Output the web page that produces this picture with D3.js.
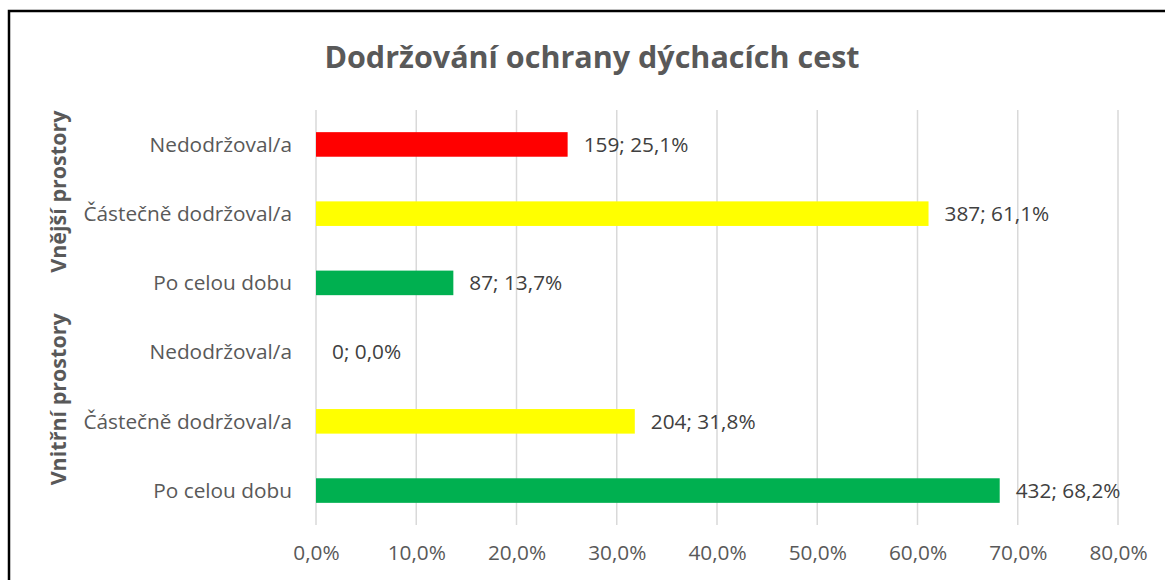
<!DOCTYPE html>
<html>
<head>
<meta charset="utf-8">
<script src="https://cdn.jsdelivr.net/npm/d3@7"></script>
<style>
  body { margin: 0; background: #fff; }
  svg { display: block; font-family: "Open Sans", sans-serif; }
</style>
</head>
<body>
<svg id="chart" width="1165" height="580"></svg>
<script>
// Data
const groups = ["Vnější prostory", "Vnitřní prostory"];
const categories = ["Nedodržoval/a", "Částečně dodržoval/a", "Po celou dobu"];
const counts = [159, 387, 87, 0, 204, 432];     // top to bottom
const percents = [25.1, 61.1, 13.7, 0.0, 31.8, 68.2];
const barColors = ["#ff0000", "#ffff00", "#00b050"];
const xTicks = [0, 10, 20, 30, 40, 50, 60, 70, 80];

const rows = percents.map((p, i) => ({
    key: i,
    group: groups[Math.floor(i / 3)],
    category: categories[i % 3],
    color: barColors[i % 3],
    count: counts[i],
    pct: p
}));

const svg = d3.select("#chart");
const margin = { top: 110, left: 316, right: 47, bottom: 55 };
const width = 1165, height = 580;
const labelFont = 20.8;

// chart frame
svg.append("rect")
    .attr("x", 9).attr("y", 11)
    .attr("width", 1170).attr("height", 600)
    .attr("fill", "none")
    .attr("stroke", "#000")
    .attr("stroke-width", 2.5);

const x = d3.scaleLinear().domain([0, 80]).range([margin.left, width - margin.right]);
const y = d3.scaleBand().domain(rows.map(d => d.key))
    .range([margin.top, height - margin.bottom])
    .paddingInner(0.645).paddingOuter(0.32);

// title
svg.append("text")
    .attr("x", 592).attr("y", 68)
    .attr("text-anchor", "middle")
    .attr("font-size", 30.5).attr("font-weight", "bold")
    .attr("fill", "#595959")
    .text("Dodržování ochrany dýchacích cest");

// gridlines
svg.append("g")
    .selectAll("line")
    .data(xTicks)
    .join("line")
    .attr("x1", d => x(d)).attr("x2", d => x(d))
    .attr("y1", margin.top).attr("y2", height - margin.bottom)
    .attr("stroke", "#d9d9d9").attr("stroke-width", 1.5);

// x axis labels
const xAxis = svg.append("g")
    .attr("transform", `translate(0,${height - margin.bottom})`)
    .call(d3.axisBottom(x).tickValues(xTicks).tickSize(0).tickPadding(20)
        .tickFormat(d => d.toFixed(1).replace(".", ",") + "%"));
xAxis.select(".domain").remove();
xAxis.selectAll("text")
    .attr("font-family", "'Open Sans', sans-serif")
    .attr("font-size", labelFont).attr("fill", "#595959");

// category labels
svg.append("g")
    .selectAll("text")
    .data(rows)
    .join("text")
    .attr("x", 292)
    .attr("y", d => y(d.key) + y.bandwidth() / 2)
    .attr("dy", "0.35em")
    .attr("text-anchor", "end")
    .attr("font-size", labelFont).attr("fill", "#595959")
    .text(d => d.category);

// group labels (rotated)
svg.append("g")
    .selectAll("text")
    .data(groups)
    .join("text")
    .attr("transform", (g, i) => {
        const first = y(i * 3), last = y(i * 3 + 2) + y.bandwidth();
        return `translate(58,${(first + last) / 2 - 22}) rotate(-90)`;
    })
    .attr("dy", "0.35em")
    .attr("text-anchor", "middle")
    .attr("font-size", 21.5).attr("font-weight", "bold")
    .attr("fill", "#595959")
    .text(d => d);

// bars
svg.append("g")
    .selectAll("rect")
    .data(rows)
    .join("rect")
    .attr("x", x(0))
    .attr("y", d => y(d.key))
    .attr("width", d => x(d.pct) - x(0))
    .attr("height", y.bandwidth())
    .attr("fill", d => d.color);

// value labels
svg.append("g")
    .selectAll("text")
    .data(rows)
    .join("text")
    .attr("x", d => x(d.pct) + 16)
    .attr("y", d => y(d.key) + y.bandwidth() / 2)
    .attr("dy", "0.35em")
    .attr("font-size", labelFont).attr("fill", "#404040")
    .text(d => `${d.count}; ${d.pct.toFixed(1).replace(".", ",")}%`);
</script>
</body>
</html>
